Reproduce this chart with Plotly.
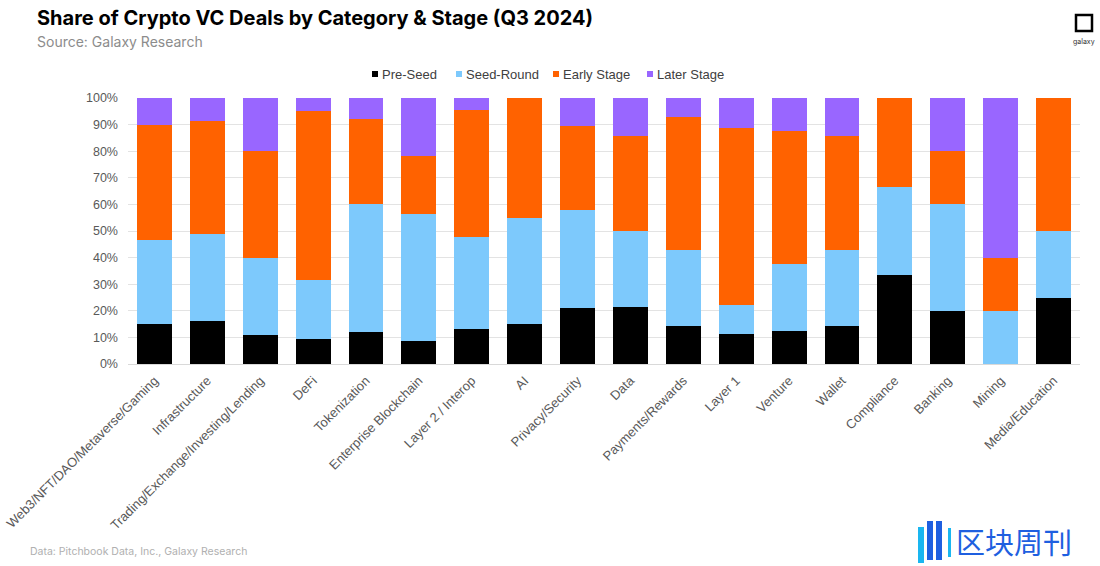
import plotly.graph_objects as go

categories = ["Web3/NFT/DAO/Metaverse/Gaming", "Infrastructure", "Trading/Exchange/Investing/Lending",
              "DeFi", "Tokenization", "Enterprise Blockchain", "Layer 2 / Interop", "AI",
              "Privacy/Security", "Data", "Payments/Rewards", "Layer 1", "Venture", "Wallet",
              "Compliance", "Banking", "Mining", "Media/Education"]

pre_seed = [15.0, 16.2, 10.8, 9.5, 12.0, 8.7, 13.0, 15.0, 21.1, 21.4, 14.3, 11.1, 12.5, 14.3, 33.3, 20.0, 0.0, 25.0]
seed_round = [31.7, 32.5, 29.2, 22.2, 48.0, 47.8, 34.8, 40.0, 36.8, 28.6, 28.6, 11.1, 25.0, 28.6, 33.3, 40.0, 20.0, 25.0]
early_stage = [43.3, 42.5, 40.0, 63.5, 32.0, 21.7, 47.8, 45.0, 31.6, 35.7, 50.0, 66.7, 50.0, 42.9, 33.4, 20.0, 20.0, 50.0]
later_stage = [10.0, 8.8, 20.0, 4.8, 8.0, 21.8, 4.4, 0.0, 10.5, 14.3, 7.1, 11.1, 12.5, 14.2, 0.0, 20.0, 60.0, 0.0]

series_names = ["Pre-Seed", "Seed-Round", "Early Stage", "Later Stage"]
series_values = [pre_seed, seed_round, early_stage, later_stage]
series_colors = ["#000000", "#7DC9FC", "#FF6200", "#9966FF"]

y_ticks = [0, 10, 20, 30, 40, 50, 60, 70, 80, 90, 100]
y_tick_labels = [f"{v}%" for v in y_ticks]

W, H = 1100, 566
ML, MT, MR = 128, 98, 20
PLOT_W = W - ML - MR          # 952
PLOT_H = 266
MB = H - MT - PLOT_H


def px(x):  # reference-screenshot x -> paper coordinate
    return (x - ML) / PLOT_W


def py(y):  # reference-screenshot y -> paper coordinate
    return (MT + PLOT_H - y) / PLOT_H


fig = go.Figure()
for name, vals, color in zip(series_names, series_values, series_colors):
    fig.add_trace(go.Bar(name=name, x=categories, y=vals, marker_color=color,
                         marker_line_width=0))

fig.update_layout(
    barmode="stack",
    bargap=0.34,
    width=W, height=H,
    margin=dict(l=ML, r=MR, t=MT, b=MB, pad=0, autoexpand=False),
    paper_bgcolor="white", plot_bgcolor="white",
    font=dict(family="Liberation Sans, Arial", size=13, color="#595959"),
    showlegend=False,
)
fig.update_yaxes(range=[0, 100], tickvals=y_ticks, ticktext=y_tick_labels,
                 showgrid=True, gridcolor="#E3E3E3", gridwidth=1, zeroline=False,
                 tickfont=dict(size=12.5, color="#595959"), ticks="", showline=False,
                 automargin=False, ticklabelstandoff=9)
fig.update_xaxes(tickangle=-45, showline=True, linecolor="#D9D9D9", linewidth=1,
                 tickfont=dict(size=13, color="#595959"), ticks="", automargin=False,
                 ticklabelstandoff=3)

# Legend drawn as small squares + text (compact, like the reference)
legend_x = [372, 456, 553, 647]
for name, color, lx in zip(series_names, series_colors, legend_x):
    fig.add_shape(type="rect", xref="paper", yref="paper",
                  x0=px(lx), x1=px(lx + 6), y0=py(77), y1=py(71),
                  line=dict(width=0), fillcolor=color)
    fig.add_annotation(text=name, xref="paper", yref="paper",
                       x=px(lx + 9), y=py(74), xanchor="left", yanchor="middle",
                       showarrow=False, borderpad=0,
                       font=dict(family="Liberation Sans, Arial", size=13, color="#404040"))

# Title & subtitle
fig.add_annotation(text="<b>Share of Crypto VC Deals by Category & Stage (Q3 2024)</b>",
                   xref="paper", yref="paper", x=px(36), y=py(18),
                   xanchor="left", yanchor="middle", showarrow=False, borderpad=0,
                   font=dict(family="Inter, Roboto", size=20, color="#000000"))
fig.add_annotation(text="Source: Galaxy Research",
                   xref="paper", yref="paper", x=px(36), y=py(41),
                   xanchor="left", yanchor="middle", showarrow=False, borderpad=0,
                   font=dict(family="Inter, Roboto", size=14, color="#8C8C8C"))
# Footer
fig.add_annotation(text="Data: Pitchbook Data, Inc., Galaxy Research",
                   xref="paper", yref="paper", x=px(29), y=py(551),
                   xanchor="left", yanchor="middle", showarrow=False, borderpad=0,
                   font=dict(family="Inter, Roboto", size=10.5, color="#B0B0B0"))

# Galaxy logo (top right)
fig.add_shape(type="rect", xref="paper", yref="paper",
              x0=px(1076), x1=px(1092), y0=py(31), y1=py(15),
              line=dict(color="#000000", width=2.5), fillcolor="white")
fig.add_annotation(text="galaxy", xref="paper", yref="paper",
                   x=px(1084), y=py(41), showarrow=False, borderpad=0,
                   xanchor="center", yanchor="middle",
                   font=dict(family="Inter, Roboto", size=7, color="#333333"))

# Watermark
for x0, x1, y0, y1, col in [(918, 924, 563, 527, "#1AB6F0"),
                            (927, 933, 560, 521, "#1E5FE0"),
                            (936, 942, 560, 521, "#1E5FE0"),
                            (948, 951, 557, 528, "#1AB6F0")]:
    fig.add_shape(type="rect", xref="paper", yref="paper",
                  x0=px(x0), x1=px(x1), y0=py(y0), y1=py(y1),
                  line=dict(width=0), fillcolor=col)
fig.add_annotation(text="区块周刊", xref="paper", yref="paper",
                   x=px(955), y=py(541), showarrow=False, borderpad=0,
                   xanchor="left", yanchor="middle",
                   font=dict(family="Noto Sans CJK SC", size=29, color="#1E5FE0"))

fig.write_html("out.html", config={"displayModeBar": False},
               post_script="document.body.style.margin='0';document.body.style.overflow='hidden';")
